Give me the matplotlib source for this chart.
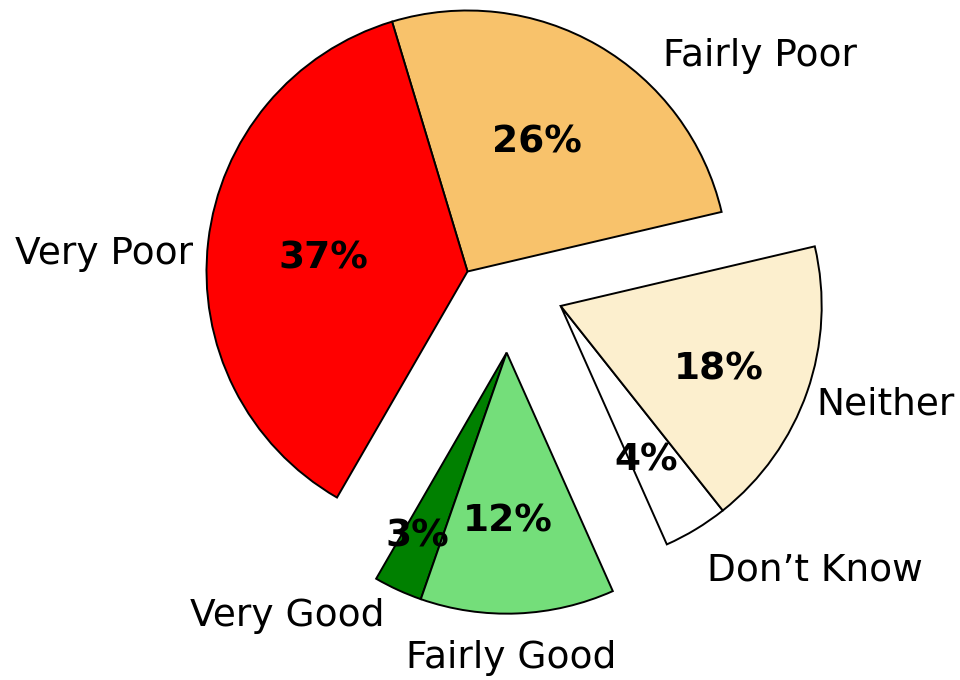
import numpy as np
import matplotlib.pyplot as plt

labels = ['Fairly Poor', 'Very Poor', 'Very Good', 'Fairly Good', "Don\u2019t Know", 'Neither']
values = [26, 37, 3, 12, 4, 18]
colors = ['#F8C26B', '#FF0000', '#008000', '#74DE7A', '#FFFFFF', '#FCEFCE']

# slices pulled out together, offset of each group (in pie radii)
group = [0, 0, 1, 1, 2, 2]
group_shift = [(0.0, 0.0), (0.150, -0.311), (0.357, -0.132)]

# where the text goes (data units, baseline)
label_pos = [(0.748, 0.788), (-1.053, 0.028), (-0.318, -1.357),
             (-0.236, -1.520), (0.919, -1.185), (1.338, -0.547)]
label_ha = ['left', 'right', 'right', 'left', 'left', 'left']
pct_pos = [(0.266, 0.455), (-0.551, 0.012), (-0.193, -1.054),
           (0.153, -0.997), (0.685, -0.761), (0.964, -0.412)]

fig = plt.figure(figsize=(9.6, 6.8), dpi=100)
ax = fig.add_axes([0, 0, 1, 1])

wedges, texts, autotexts = ax.pie(values, labels=labels, colors=colors,
                                  startangle=13.2, autopct='%d%%',
                                  wedgeprops=dict(edgecolor='black', linewidth=1.4),
                                  textprops=dict(fontsize=27))

for i, w in enumerate(wedges):
    dx, dy = group_shift[group[i]]
    w.set_center((dx, dy))

for i, t in enumerate(texts):
    t.set_position(label_pos[i])
    t.set_ha(label_ha[i])
    t.set_va('baseline')

for i, t in enumerate(autotexts):
    t.set_position(pct_pos[i])
    t.set_ha('center')
    t.set_va('baseline')
    t.set_fontweight('bold')

ax.set_aspect('equal')
ax.set_xlim(-467.5 / 261, (960 - 467.5) / 261)
ax.set_ylim(-(680 - 271.5) / 261, 271.5 / 261)
ax.axis('off')

fig.savefig('out.png', dpi=100)
